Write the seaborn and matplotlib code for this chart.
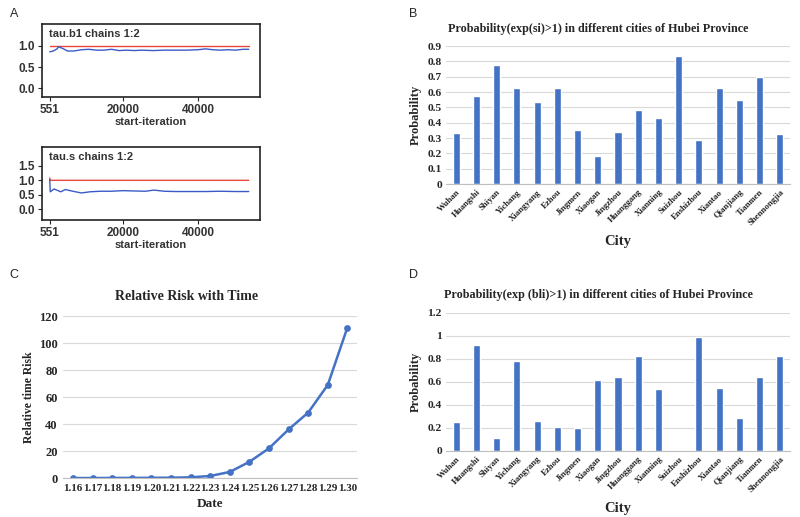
import matplotlib
matplotlib.use("Agg")
import matplotlib.pyplot as plt
import seaborn as sns

sns.set_style("white")

# ---- panel A: trace of tau chains ----
iter_b1 = [551, 1500, 2500, 2900, 4000, 5300, 7000, 9000, 11000, 13000, 15000, 17000, 19000,
           21000, 23000, 25000, 28000, 31000, 34000, 37000, 40000, 42000, 44000, 46000,
           48000, 50000, 52000, 53500]
b1_blue = [0.86, 0.88, 0.93, 0.98, 0.94, 0.88, 0.88, 0.91, 0.92, 0.90, 0.90, 0.92, 0.89,
           0.90, 0.89, 0.90, 0.89, 0.90, 0.90, 0.90, 0.91, 0.93, 0.91, 0.90, 0.91, 0.90,
           0.92, 0.92]
b1_red_iter = [551, 53500]
b1_red = [1.0, 1.0]

iter_s = [551, 700, 1700, 3500, 4700, 6700, 9000, 11200, 14000, 17000, 20000, 23000,
          26000, 28300, 31000, 34000, 38000, 42000, 46000, 50000, 53500]
s_blue = [1.03, 0.60, 0.70, 0.60, 0.68, 0.62, 0.56, 0.60, 0.62, 0.62, 0.64, 0.63, 0.62,
          0.66, 0.62, 0.61, 0.61, 0.61, 0.62, 0.61, 0.61]
s_red_iter = [551, 700, 53500]
s_red = [1.08, 1.0, 1.0]

# ---- panels B and D ----
cities = ["Wuhan", "Huangshi", "Shiyan", "Yichang", "Xiangyang", "Ezhou", "Jingmen",
          "Xiaogan", "Jingzhou", "Huanggang", "Xianning", "Suizhou", "Enshizhou",
          "Xiantao", "Qianjiang", "Tianmen", "Shennongjia"]
prob_si = [0.335, 0.575, 0.775, 0.625, 0.535, 0.625, 0.35, 0.18, 0.34, 0.48, 0.43,
           0.835, 0.285, 0.625, 0.545, 0.70, 0.325]
prob_bli = [0.255, 0.925, 0.11, 0.785, 0.26, 0.205, 0.20, 0.615, 0.64, 0.825, 0.54,
            0.0, 0.99, 0.545, 0.29, 0.64, 0.83]

# ---- panel C ----
dates = ["1.16", "1.17", "1.18", "1.19", "1.20", "1.21", "1.22", "1.23", "1.24", "1.25",
         "1.26", "1.27", "1.28", "1.29", "1.30"]
risk = [0.0, 0.0, 0.05, 0.1, 0.15, 0.25, 0.5, 1.5, 4.5, 12.0, 22.0, 36.0, 48.5, 69.0, 111.5]

blue = "#4472C4"
serif = "Liberation Serif"
sans = "Liberation Sans"

fig = plt.figure(figsize=(8, 5.17), dpi=100)


def trace_panel(rect, title, it_blue, y_blue, it_red, y_red, ylim, yticks):
    ax = fig.add_axes(rect)
    sns.lineplot(x=it_red, y=y_red, color="#e8473c", linewidth=1.0, ax=ax)
    sns.lineplot(x=it_blue, y=y_blue, color="#3a5bc7", linewidth=1.0, ax=ax)
    ax.set_xlim(-1500, 56500)
    ax.set_ylim(*ylim)
    ax.set_xticks([551, 20000, 40000])
    ax.set_xticklabels(["551", "20000", "40000"], fontsize=8.5, family=sans, fontweight="bold", color="#333333")
    ax.set_yticks(yticks)
    ax.set_yticklabels([f"{v:.1f}" for v in yticks], fontsize=8.5, family=sans, fontweight="bold", color="#333333")
    ax.tick_params(axis="both", direction="out", length=3, width=0.8, pad=2, left=True, bottom=True)
    for s in ax.spines.values():
        s.set_linewidth(1.2)
        s.set_color("#222222")
    ax.set_xlabel("start-iteration", fontsize=8, family=sans, fontweight="bold", color="#333333", labelpad=1)
    ax.set_ylabel("")
    ax.text(0.03, 0.93, title, transform=ax.transAxes, ha="left", va="top",
            fontsize=8, family=sans, fontweight="bold", color="#333333")
    return ax


trace_panel([0.0525, 0.8124, 0.2725, 0.1412], "tau.b1 chains 1:2",
            iter_b1, b1_blue, b1_red_iter, b1_red, (-0.21, 1.52), [0.0, 0.5, 1.0])
trace_panel([0.0525, 0.5745, 0.2725, 0.1412], "tau.s chains 1:2",
            iter_s, s_blue, s_red_iter, s_red, (-0.38, 2.16), [0.0, 0.5, 1.0, 1.5])


def bar_panel(rect, title, title_y, values, ymax, yticks, ylabels):
    ax = fig.add_axes(rect)
    sns.barplot(x=cities, y=values, color=blue, width=0.35, saturation=1, ax=ax)
    ax.set_xlim(-0.5, len(cities) - 0.5)
    ax.set_ylim(0, ymax)
    ax.set_yticks(yticks)
    ax.set_yticklabels(ylabels, fontsize=8.2, family=serif, fontweight="bold")
    ax.set_xticks(range(len(cities)))
    ax.set_xticklabels(cities, rotation=45, ha="right", rotation_mode="anchor",
                       fontsize=6.3, family=serif, fontweight="bold")
    ax.yaxis.grid(True, color="#d9d9d9", linewidth=0.8)
    ax.set_axisbelow(True)
    for k in ["left", "right", "top"]:
        ax.spines[k].set_visible(False)
    ax.spines["bottom"].set_color("#bfbfbf")
    ax.tick_params(axis="both", length=0, pad=3)
    ax.set_xlabel("City", fontsize=10.5, family=serif, fontweight="bold", labelpad=6)
    ax.set_ylabel("Probability", fontsize=9, family=serif, fontweight="bold", labelpad=4)
    # chart title centred over the whole chart block, as in the original
    fig.text(598 / 800, 1 - title_y / 517, title, fontsize=8.7, family=serif,
             fontweight="bold", ha="center", va="center")
    return ax


bar_panel([0.5575, 0.644, 0.43, 0.267], "Probability(exp(si)>1) in different cities of Hubei Province", 29,
          prob_si, 0.9, [i / 10 for i in range(10)], ["0"] + [f"{i / 10:.1f}" for i in range(1, 10)])
bar_panel([0.5575, 0.1277, 0.43, 0.267], "Probability(exp (bli)>1) in different cities of Hubei Province", 295,
          prob_bli, 1.2, [0, 0.2, 0.4, 0.6, 0.8, 1.0, 1.2], ["0", "0.2", "0.4", "0.6", "0.8", "1", "1.2"])

# panel C
axc = fig.add_axes([0.079, 0.0754, 0.3675, 0.3133])
sns.pointplot(x=dates, y=risk, color=blue, markers="o", markersize=3.5, linewidth=1.8, ax=axc)
axc.set_xlim(-0.5, len(dates) - 0.5)
axc.set_ylim(0, 120)
axc.set_yticks(range(0, 121, 20))
axc.set_yticklabels([str(v) for v in range(0, 121, 20)], fontsize=9, family=serif, fontweight="bold")
axc.set_xticks(range(len(dates)))
axc.set_xticklabels(dates, fontsize=7.9, family=serif, fontweight="bold")
axc.yaxis.grid(True, color="#d9d9d9", linewidth=0.8)
axc.set_axisbelow(True)
for k in ["left", "right", "top"]:
    axc.spines[k].set_visible(False)
axc.spines["bottom"].set_color("#bfbfbf")
axc.tick_params(axis="both", length=0, pad=4)
axc.set_xlabel("Date", fontsize=9.5, family=serif, fontweight="bold", labelpad=4)
axc.set_ylabel("Relative time Risk", fontsize=8.5, family=serif, fontweight="bold", labelpad=3)
fig.text(187 / 800, 1 - 297 / 517, "Relative Risk with Time", fontsize=10, family=serif,
         fontweight="bold", ha="center", va="center")

# panel letters
for letter, (x, y) in {"A": (0.012, 0.972), "B": (0.511, 0.972), "C": (0.012, 0.468), "D": (0.511, 0.468)}.items():
    fig.text(x, y, letter, fontsize=9, family=sans, ha="left", va="center")

fig.savefig("out.png", dpi=100)
